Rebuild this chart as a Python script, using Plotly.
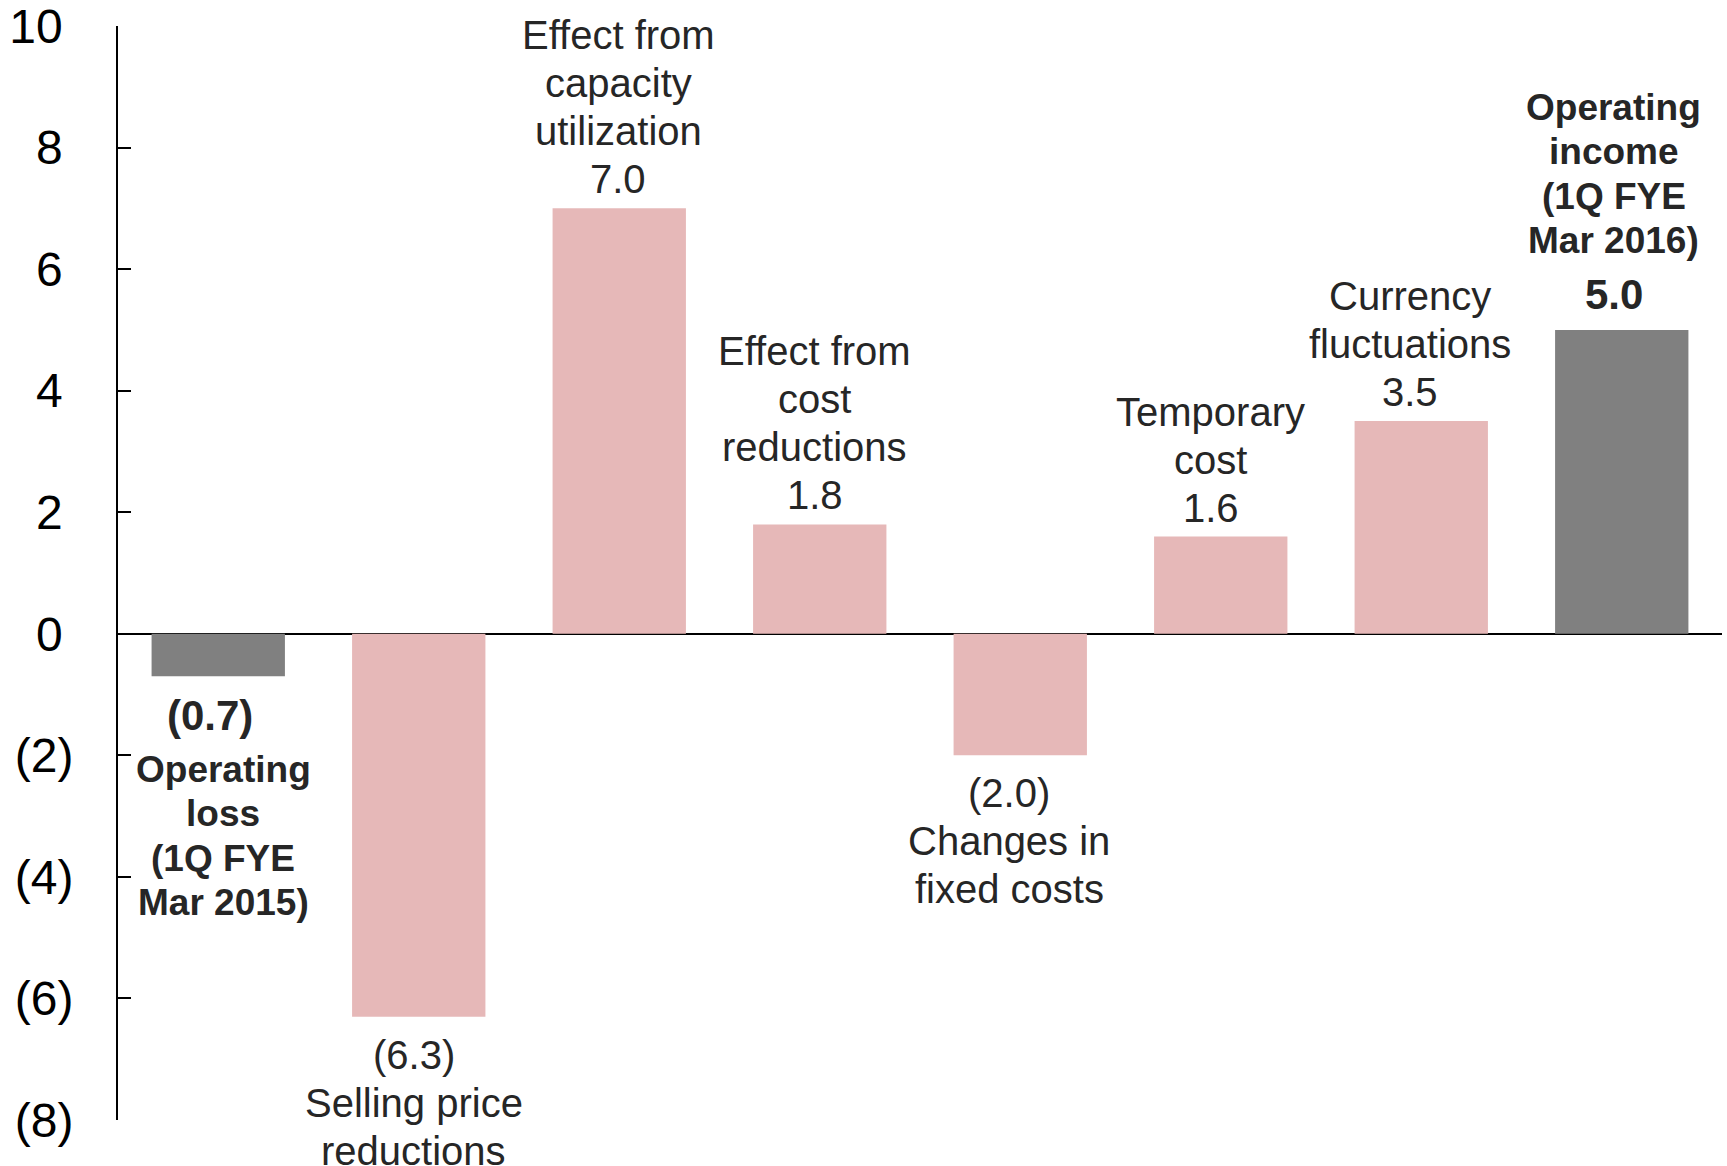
import plotly.graph_objects as go

categories = ["Operating loss (1Q FYE Mar 2015)", "Selling price reductions",
              "Effect from capacity utilization", "Effect from cost reductions",
              "Changes in fixed costs", "Temporary cost", "Currency fluctuations",
              "Operating income (1Q FYE Mar 2016)"]
values = [-0.7, -6.3, 7.0, 1.8, -2.0, 1.6, 3.5, 5.0]
value_texts = ["(0.7)", "(6.3)", "7.0", "1.8", "(2.0)", "1.6", "3.5", "5.0"]
label_lines = [["Operating", "loss", "(1Q FYE", "Mar 2015)"],
               ["Selling price", "reductions"],
               ["Effect from", "capacity", "utilization"],
               ["Effect from", "cost", "reductions"],
               ["Changes in", "fixed costs"],
               ["Temporary", "cost"],
               ["Currency", "fluctuations"],
               ["Operating", "income", "(1Q FYE", "Mar 2016)"]]
is_total = [True, False, False, False, False, False, False, True]
tick_vals = [10, 8, 6, 4, 2, 0, -2, -4, -6, -8]
tick_text = ["10", "8", "6", "4", "2", "0", "(2)", "(4)", "(6)", "(8)"]

# layout tweaks (pixel offsets of text blocks, not data)
value_xshift = [-8, -5, -1, -5, -11, -10, -11, -8]
label_xshift = [5, -5, -1, -5, -11, -10, -11, -8]

PINK = "#E6B8B8"
GRAY = "#808080"
TXT = "#262626"
FONT = "Liberation Sans, Arial, sans-serif"

colors = [GRAY if t else PINK for t in is_total]

fig = go.Figure(go.Bar(x=categories, y=values, marker=dict(color=colors, line=dict(width=0)),
                       hoverinfo="skip"))

annotations = []
for i, (cat, v, vt, lines, tot) in enumerate(zip(categories, values, value_texts, label_lines, is_total)):
    sign = 1 if v >= 0 else -1
    if tot:
        voff = 35 if v >= 0 else 39
        first_gap, spacing = 54, 44.5
        vfont = dict(family=FONT, size=42, color=TXT, weight="bold")
        lfont = dict(family=FONT, size=37, color=TXT, weight="bold")
    else:
        voff = 29 if v >= 0 else 38
        first_gap, spacing = 48, 48
        vfont = dict(family=FONT, size=40, color=TXT)
        lfont = dict(family=FONT, size=40, color=TXT)
    annotations.append(dict(x=cat, y=v, xref="x", yref="y", text=vt, showarrow=False,
                            yanchor="middle", xanchor="center", yshift=sign * voff,
                            xshift=value_xshift[i], font=vfont))
    ordered = list(reversed(lines)) if v >= 0 else list(lines)
    for k, line in enumerate(ordered):
        off = voff + first_gap + spacing * k
        annotations.append(dict(x=cat, y=v, xref="x", yref="y", text=line, showarrow=False,
                                yanchor="middle", xanchor="center", yshift=sign * off,
                                xshift=label_xshift[i], font=lfont))

# Excel-style "0_);(0)" format: positives padded with an invisible narrow ")"
tick_labels = [t if t.startswith("(") else t + "<span style='color:white;font-size:32px'>)</span>"
               for t in tick_text]

fig.update_layout(
    width=1727, height=1166,
    margin=dict(l=118, r=5, t=26, b=46),
    paper_bgcolor="white", plot_bgcolor="white",
    bargap=0.335,
    showlegend=False,
    annotations=annotations,
    xaxis=dict(range=[-0.5, 7.5], showticklabels=False, showgrid=False, zeroline=False,
               showline=False, ticks="", automargin=False),
    yaxis=dict(range=[-8, 10], tickvals=tick_vals, ticktext=tick_labels, showgrid=False,
               zeroline=True, zerolinecolor="black", zerolinewidth=2,
               showline=True, linecolor="black", linewidth=2,
               ticks="inside", ticklen=13, tickwidth=2, tickcolor="black",
               ticklabelstandoff=33, automargin=False, ticklabeloverflow="allow",
               tickfont=dict(family=FONT, size=48, color="black")),
)

fig.write_html("out.html")
